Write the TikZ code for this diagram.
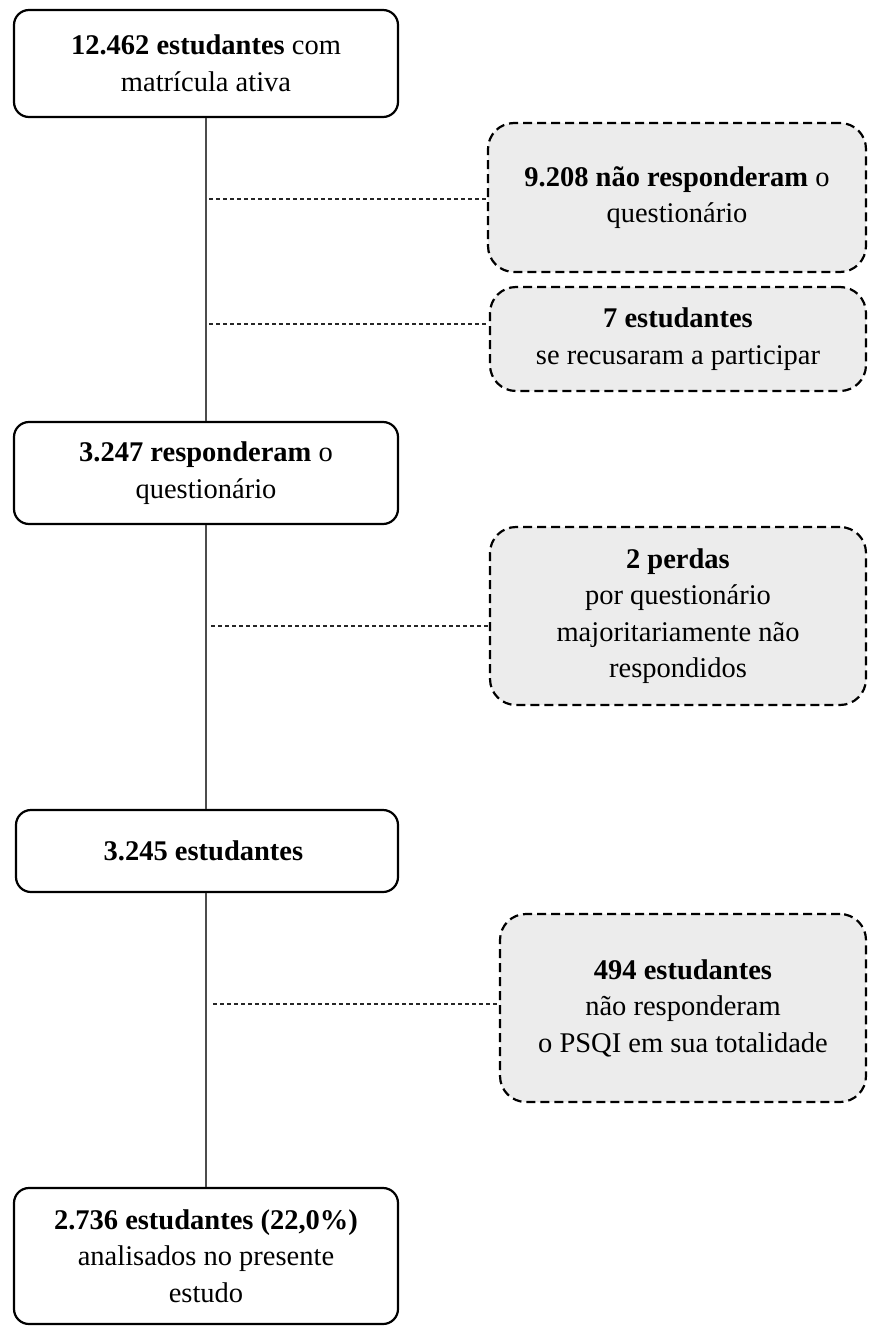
\documentclass[tikz,border=0pt]{standalone}
\usepackage{fontspec}
\setmainfont{Liberation Serif}
\usepackage{xcolor}
\usepackage{tikz}
\usetikzlibrary{positioning,calc}

\begin{document}
\begin{tikzpicture}[x=1pt, y=-1pt,
    mainbox/.style={draw, rectangle, rounded corners=15pt, line width=2.2pt, align=center, inner sep=0pt, font=\fontsize{28.5}{36.5}\selectfont},
    lossbox/.style={draw, rectangle, rounded corners=26pt, dash pattern=on 9pt off 5pt, line width=2.2pt, fill=gray!15, align=center, inner sep=0pt, font=\fontsize{28.5}{36.5}\selectfont},
    flow/.style={draw=black!70, line width=1.2pt},
    branch/.style={draw=black!85, line width=1.2pt, dash pattern=on 4pt off 3pt}]
\useasboundingbox (0,0) rectangle (879,1327);

% main column
\node[mainbox, minimum width=384pt, minimum height=107pt] (tot) at (206,63.5) {
    \textbf{12.462 estudantes} com\\
    matrícula ativa
};
\node[mainbox, minimum width=384pt, minimum height=102pt] (resp) at (206,473) {
    \textbf{3.247 responderam} o\\
    questionário
};
\node[mainbox, minimum width=382pt, minimum height=82pt] (est) at (207,851) {
    \textbf{3.245 estudantes}
};
\node[mainbox, minimum width=384pt, minimum height=136pt] (fin) at (206,1256) {
    \textbf{2.736 estudantes (22,0\%)}\\
    analisados no presente\\
    estudo
};

% losses
\node[lossbox, minimum width=378pt, minimum height=149pt] (naoresp) at (677,197.5) {
    \textbf{9.208 não responderam} o\\
    questionário
};
\node[lossbox, minimum width=376pt, minimum height=104pt] (recusa) at (678,339) {
    \textbf{7 estudantes}\\
    se recusaram a participar
};
\node[lossbox, minimum width=376pt, minimum height=178pt] (perdas) at (678,616) {
    \textbf{2 perdas}\\
    por questionário\\
    majoritariamente não\\
    respondidos
};
\node[lossbox, minimum width=366pt, minimum height=188pt] (psqi) at (683,1008) {
    \textbf{494 estudantes}\\
    não responderam\\
    o PSQI em sua totalidade
};

% connectors
\draw[flow] (tot.south) -- (resp.north);
\draw[flow] (resp.south) -- (resp.south |- est.north);
\draw[flow] (resp.south |- est.south) -- (fin.north);

\coordinate (b1) at (209,199);
\coordinate (b2) at (209,324);
\coordinate (b3) at (211,626);
\coordinate (b4) at (213,1004);
\draw[branch] (b1) -- (b1 -| naoresp.west);
\draw[branch] (b2) -- (b2 -| recusa.west);
\draw[branch] (b3) -- (b3 -| perdas.west);
\draw[branch] (b4) -- (b4 -| psqi.west);
\end{tikzpicture}
\end{document}
